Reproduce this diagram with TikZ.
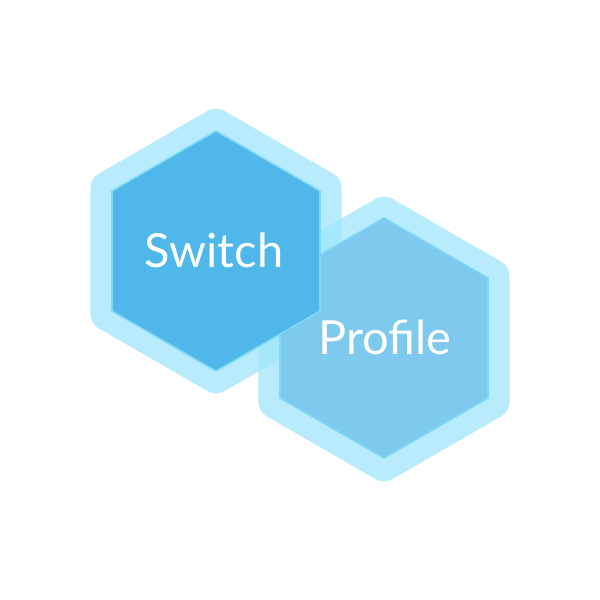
\documentclass[tikz,border=0pt]{standalone}
\usepackage{fontspec}
\setmainfont{Lato}
\definecolor{rim}{RGB}{158,229,251}
\definecolor{rimline}{RGB}{125,215,247}
\definecolor{darkfill}{RGB}{79,183,233}
\definecolor{lightfill}{RGB}{126,201,238}
\tikzset{
  outerhex/.style={fill=rim, fill opacity=0.73, rounded corners=9pt},
  innerhex/.style={draw=rimline, line width=1.6pt, line join=miter},
  label/.style={text=white, font=\fontsize{47}{47}\selectfont, inner sep=0pt}
}
\begin{document}
\begin{tikzpicture}[x=1pt,y=-1pt]
\useasboundingbox (0,0) rectangle (600,600);
% outer rims
\path[outerhex] (216,106) -- (341.6,178.5) -- (341.6,323.5) -- (216,396) -- (90.4,323.5) -- (90.4,178.5) -- cycle;
\path[outerhex] (384,194) -- (509.6,266.5) -- (509.6,411.5) -- (384,484) -- (258.4,411.5) -- (258.4,266.5) -- cycle;
% right inner
\path[innerhex, fill=lightfill] (384,218) -- (488,278) -- (488,398) -- (384,458) -- (280,398) -- (280,278) -- cycle;
% left inner
\path[innerhex, fill=darkfill] (216,131) -- (320,191) -- (320,311) -- (216,371) -- (112,311) -- (112,191) -- cycle;
% labels
\node[label] (sw) at (214,250) {Switch};
\node[label] (pr) at (385,337) {Profile};
\end{tikzpicture}
\end{document}
